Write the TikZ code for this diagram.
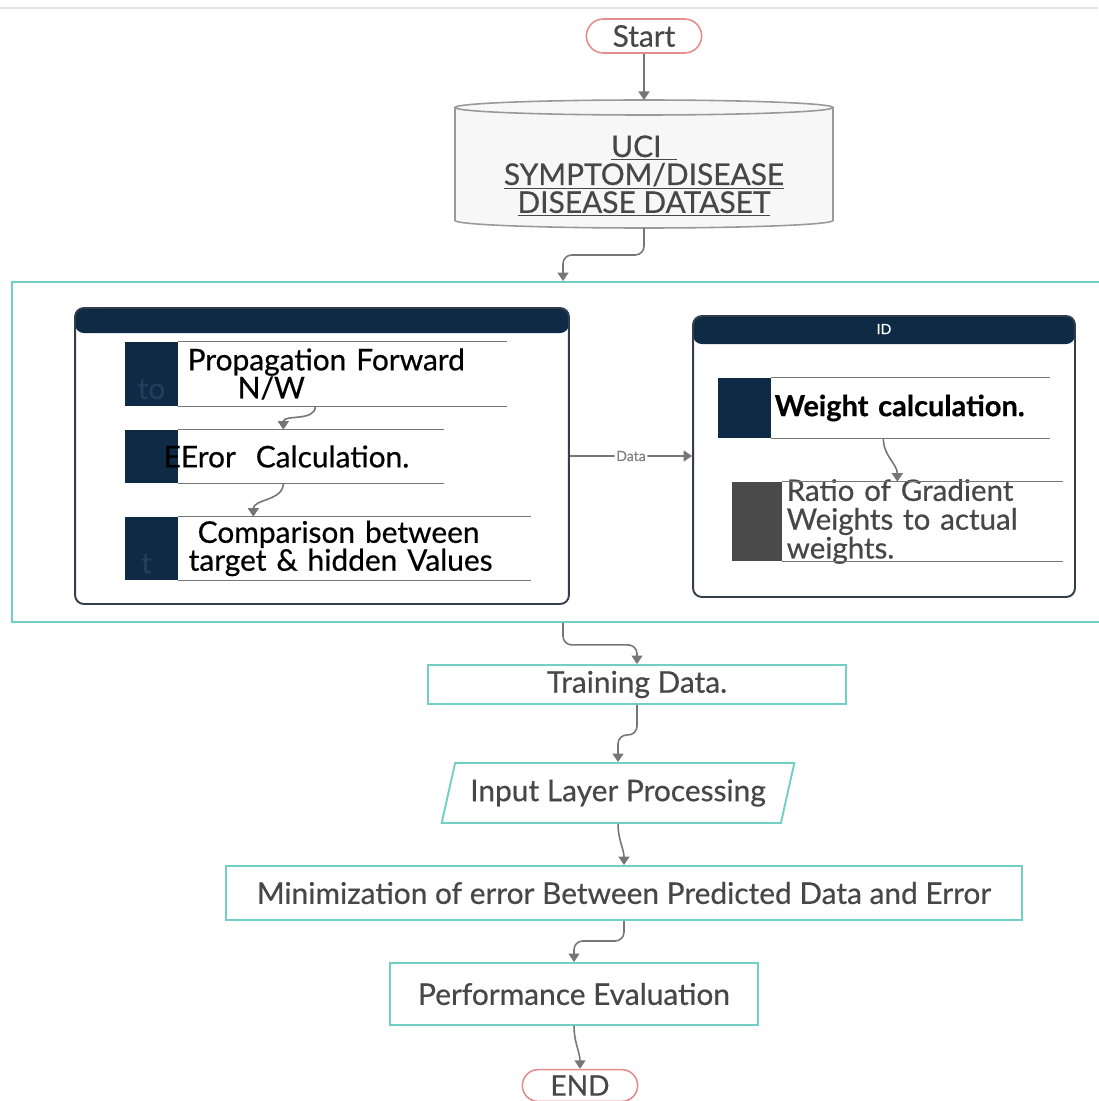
\documentclass[tikz,border=0pt]{standalone}
\usepackage{fontspec}
\setmainfont{Lato}[FakeBold=0.5]
\usetikzlibrary{arrows.meta,positioning,calc,shapes.geometric,shapes.misc}
\definecolor{navy}{HTML}{0E2A45}
\definecolor{boxteal}{HTML}{72CFC3}
\definecolor{endred}{HTML}{E58C8C}
\definecolor{linegray}{HTML}{767676}
\definecolor{txtgray}{HTML}{474747}
\definecolor{taggray}{HTML}{4A4A4A}
\definecolor{tagtext}{HTML}{213F5C}
\definecolor{laneedge}{HTML}{333E4A}
\tikzset{
    terminal/.style={rounded rectangle, draw=endred, line width=0.9pt, minimum width=2.54cm, minimum height=0.68cm, text=txtgray, font=\fontsize{17}{17}\selectfont},
    database/.style={draw=gray!80, fill=gray!6, line width=0.9pt},
    process/.style={rectangle, draw=boxteal, line width=1.1pt, text=txtgray, font=\fontsize{17}{17}\selectfont},
    inout/.style={trapezium, trapezium left angle=72, trapezium right angle=108, trapezium stretches=true, draw=boxteal, line width=1.1pt, text=txtgray, font=\fontsize{17}{17}\selectfont},
    stagebox/.style={rectangle, draw=boxteal, line width=1.1pt},
    lane/.style={rectangle, draw=laneedge, line width=1.1pt, rounded corners=5pt, fill=white,
        path picture={\fill[navy] (path picture bounding box.north west) rectangle ([yshift=-#1]path picture bounding box.north east);}},
    lanetitle/.style={text=white, font=\fontsize{8}{9}\selectfont, inner sep=0pt},
    tag/.style={rectangle, fill=navy, minimum width=1.06cm, inner sep=0pt, text=tagtext, font=\fontsize{17}{17}\selectfont},
    rowtext/.style={rectangle, inner ysep=0pt, align=left, font=\fontsize{17}{15.9}\selectfont},
    rowline/.style={draw=linegray, line width=0.9pt},
    conn/.style={->, draw=linegray, line width=0.9pt, rounded corners=5pt},
    datalabel/.style={fill=white, text=gray, inner sep=1pt, font=\fontsize{8}{9}\selectfont},
    topline/.style={draw=gray!20, line width=0.8pt}
}

\begin{document}
\begin{tikzpicture}[x=0.02cm, y=-0.02cm, >={Triangle[length=0.17cm,width=0.22cm]}]
\useasboundingbox (0,0) rectangle (1098,1101);

\draw[topline] (0,8) -- (1098,8);

% ----------------------------
% Start and dataset
% ----------------------------
\node[terminal] (start) at (644,36) {Start};

\draw[database] (455,107.5) -- (455,220.5) arc[start angle=180, end angle=0, x radius=189, y radius=7.5] -- (833,107.5);
\draw[database] (644,107.5) ellipse [x radius=189, y radius=7.5];
\coordinate (dbtop) at (644,100);
\coordinate (dbbot) at (644,228);
\node[align=center, text=txtgray, font=\fontsize{17}{15.9}\selectfont] (dataset) at (644,176)
  {\underline{UCI~~}\\\underline{SYMPTOM/DISEASE}\\\underline{DISEASE DATASET}};

% ----------------------------
% Training stage with its two lanes
% ----------------------------
\node[stagebox, minimum width=21.84cm, minimum height=6.8cm] (outer) at (558,452) {};

\node[lane=0.5cm, minimum width=9.88cm, minimum height=5.92cm] (lane1) at (322,456) {};
\node[lane=0.56cm, minimum width=7.64cm, minimum height=5.62cm] (lane2) at (884,456.5) {};
\node[lanetitle] (laneid) at ($(lane2.north)+(0,14)$) {ID};

% left lane rows
\node[tag, minimum height=1.28cm] (t1) at (151.5,374) {\raisebox{-0.5cm}[0pt][0pt]{to}};
\node[rowtext, right=0pt of t1, minimum height=1.28cm, text width=6.2cm, inner xsep=0.18cm] (r1)
  {Propagation Forward\\\hspace*{1cm}N/W};
\node[tag, minimum height=1.06cm] (t2) at (151.5,456.5) {};
\node[rowtext, right=0pt of t2, minimum height=1.06cm, text width=5.3cm, inner xsep=0pt] (r2)
  {\hspace*{-0.3cm}EEror~~Calculation.};
\node[tag, minimum height=1.26cm] (t3) at (151.5,548.5) {\raisebox{-0.5cm}[0pt][0pt]{\hspace*{-0.2cm}t}};
\node[rowtext, right=0pt of t3, minimum height=1.26cm, text width=6.64cm, inner xsep=0.2cm] (r3)
  {\hspace*{0.18cm}Comparison between\\target \& hidden Values};

% right lane rows
\node[tag, minimum height=1.2cm] (t4) at (744.5,408) {};
\node[rowtext, right=0pt of t4, minimum height=1.2cm, text width=5.44cm, inner xsep=0.06cm, font=\fontsize{16.5}{16}\selectfont\bfseries] (r4)
  {Weight calculation.};
\node[tag, fill=taggray, minimum width=1cm, minimum height=1.58cm] (t5) at (757,521.5) {};
\node[rowtext, right=0pt of t5, minimum height=1.58cm, text width=5.44cm, inner xsep=0.08cm, inner ysep=-3pt, text=txtgray, font=\fontsize{16.8}{16.4}\selectfont] (r5)
  {Ratio of Gradient\\Weights to actual\\weights.};

\foreach \r in {r1,r2,r3,r4,r5} {
  \draw[rowline] (\r.north west) -- (\r.north east);
  \draw[rowline] (\r.south west) -- (\r.south east);
}

% ----------------------------
% Lower steps
% ----------------------------
\node[process, minimum width=8.36cm, minimum height=0.66cm] (train) at (637,684.5) {Training Data.};
\node[inout, minimum width=7.06cm, minimum height=1.2cm] (inlayer) at (618,793) {Input Layer Processing};
\node[process, minimum width=15.92cm, minimum height=1.08cm] (minerr) at (624,893) {Minimization of error Between Predicted Data and Error};
\node[process, minimum width=7.36cm, minimum height=1.24cm] (perf) at (574,994) {Performance Evaluation};
\node[terminal, minimum height=0.62cm, font=\fontsize{16}{16}\selectfont] (finish) at (580,1085.5) {END};

% ----------------------------
% Connectors
% ----------------------------
\draw[conn] (start) -- (dbtop);
\draw[conn] (dbbot) -- ++(0,27) -| ([xshift=0.1cm]outer.north);

\draw[conn] ([xshift=2.74cm]r1.south west) to[out=-90,in=90] ([xshift=2.1cm]r2.north west);
\draw[conn] ([xshift=2.1cm]r2.south west) to[out=-90,in=90] ([xshift=1.5cm]r3.north west);
\draw[conn] ([xshift=2.24cm]r4.south west) to[out=-90,in=90] ([xshift=2.3cm]r5.north west);
\draw[conn] (lane1.east) -- node[datalabel] {Data} (lane1.east -| lane2.west);

\draw[conn] ([xshift=0.1cm]outer.south) -- ++(0,22) -| (train.north);
\draw[conn] (train.south) -- ++(0,30) -| (inlayer.north);
\draw[conn] (inlayer.south) to[out=-90,in=90] (minerr.north);
\draw[conn] (minerr.south) -- ++(0,20) -| (perf.north);
\draw[conn] (perf.south) to[out=-90,in=90] (finish.north);

\end{tikzpicture}
\end{document}
